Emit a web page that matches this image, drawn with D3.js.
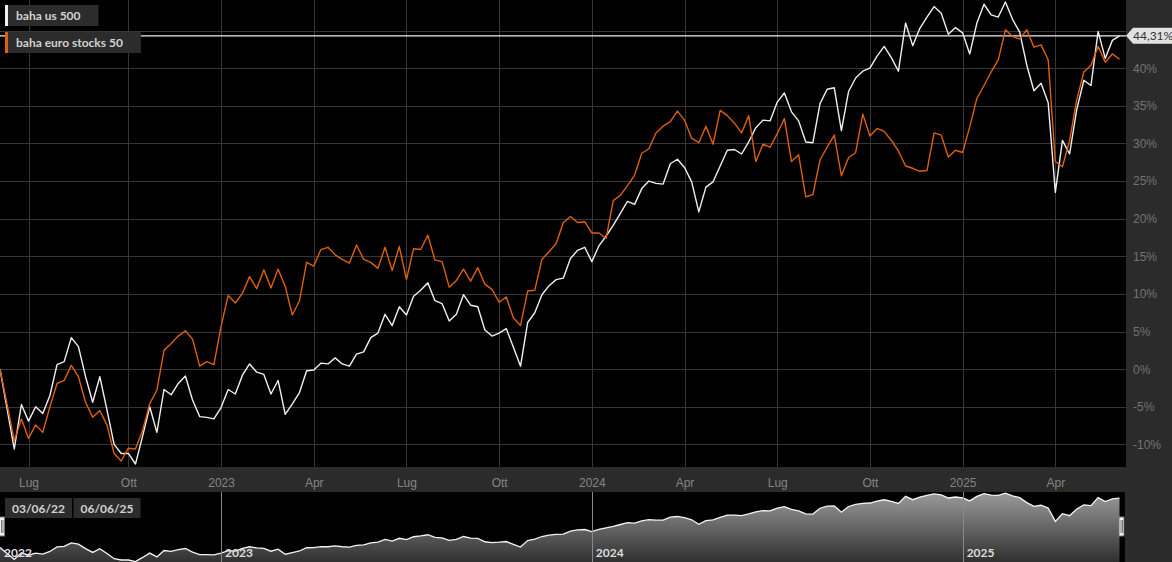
<!DOCTYPE html>
<html>
<head>
<meta charset="utf-8">
<script src="https://cdn.jsdelivr.net/npm/d3@7"></script>
<style>
  body { margin: 0; background: #2b2b2b; }
  svg { display: block; font-family: Lato, "Open Sans", sans-serif; }
  .axis .domain { display: none; }
  .axis line { display: none; }
</style>
</head>
<body>
<script>
// weekly closes, % change since 03/06/22
const seriesNames = ["baha us 500", "baha euro stocks 50"];
const seriesColors = ["#f0f0f0", "#dd600d"];

const us500 = [
  0.0, -5.3, -10.6, -4.7, -6.9, -5.0, -5.9, -3.5, 0.6, 1.0,
  4.2, 3.0, -1.0, -4.4, -1.0, -5.4, -10.0, -11.2, -11.2, -12.6,
  -8.9, -5.0, -8.4, -2.7, -3.4, -1.9, -0.9, -4.1, -6.3, -6.4,
  -6.6, -5.1, -2.7, -3.3, -0.8, 0.7, -0.4, -0.7, -3.3, -1.5,
  -6.0, -4.6, -3.1, -0.2, -0.1, 0.8, 0.7, 1.5, 0.7, 0.4,
  2.0, 2.3, 4.2, 4.8, 7.3, 5.8, 8.3, 7.2, 9.7, 10.5,
  11.5, 9.1, 8.7, 6.4, 7.3, 9.9, 8.5, 8.3, 5.2, 4.4,
  4.8, 5.4, 2.9, 0.4, 6.2, 7.5, 9.9, 11.1, 11.9, 12.1,
  14.7, 15.8, 16.2, 14.3, 16.4, 17.7, 19.1, 20.7, 22.3, 21.9,
  24.0, 25.0, 24.7, 24.6, 27.3, 27.9, 26.8, 24.9, 20.9, 24.2,
  24.9, 27.0, 29.1, 29.2, 28.6, 30.2, 32.1, 33.1, 33.0, 35.5,
  36.7, 34.2, 33.0, 30.2, 30.1, 35.3, 37.2, 37.4, 31.7, 36.9,
  38.7, 39.6, 40.0, 41.6, 42.9, 41.4, 39.6, 46.0, 43.0, 45.3,
  46.8, 48.2, 47.3, 44.5, 45.4, 44.7, 41.9, 46.0, 48.5, 47.1,
  46.8, 48.8, 46.5, 44.8, 40.4, 37.0, 38.0, 35.4, 23.5, 30.4,
  28.6, 34.5, 38.4, 37.7, 44.9, 41.3, 43.7, 44.31
];

const euroStocks50 = [
  0.0, -4.7, -9.5, -6.6, -9.2, -7.4, -8.4, -5.0, -1.9, -1.5,
  0.5, -1.0, -4.4, -6.4, -5.5, -7.4, -11.2, -12.2, -10.5, -10.6,
  -8.1, -4.6, -2.8, 2.5, 3.4, 4.4, 5.1, 4.0, 0.4, 1.0,
  0.6, 5.7, 9.8, 8.8, 10.1, 12.3, 10.7, 13.2, 10.8, 13.3,
  11.0, 7.2, 9.1, 14.2, 13.7, 15.9, 16.2, 15.2, 14.6, 14.1,
  16.5, 14.6, 14.2, 13.4, 16.2, 13.1, 16.3, 11.9, 16.0, 15.9,
  17.8, 14.5, 14.3, 10.9, 11.8, 13.3, 11.7, 13.5, 11.3, 10.6,
  8.9, 9.6, 6.8, 5.8, 10.4, 10.5, 14.6, 15.6, 16.7, 19.5,
  20.3, 19.5, 19.6, 18.1, 18.1, 17.4, 22.4, 23.1, 24.4, 25.8,
  28.7, 29.3, 31.4, 32.3, 32.9, 34.3, 33.1, 30.7, 30.1, 32.3,
  29.9, 34.4, 33.7, 32.7, 31.4, 33.7, 27.6, 29.9, 29.5, 31.3,
  33.3, 27.6, 28.5, 22.9, 23.2, 27.8, 29.5, 31.1, 25.7, 28.1,
  28.8, 33.9, 31.0, 32.0, 31.6, 30.4, 29.0, 27.0, 26.7, 26.3,
  26.4, 31.4, 31.1, 28.2, 29.1, 28.8, 32.2, 36.0, 37.7, 39.5,
  41.1, 45.1, 44.2, 43.9, 45.1, 42.8, 43.1, 41.1, 27.6, 26.9,
  30.4, 35.8, 39.5, 40.4, 42.9, 40.8, 41.9, 41.2
];

const monthLabels = ["Gen", "Feb", "Mar", "Apr", "Mag", "Giu", "Lug", "Ago", "Set", "Ott", "Nov", "Dic"];
const yTicks = [-10, -5, 0, 5, 10, 15, 20, 25, 30, 35, 40, 45];
const rangeLabels = ["03/06/22", "06/06/25"];

const W = 1172, H = 562;
const plotW = 1126, plotH = 467;
const navTop = 492;

// one point per friday
const dates = d3.timeFriday.range(new Date(2022, 5, 3), new Date(2025, 5, 7));

const x = d3.scaleTime()
    .domain([dates[0], dates[dates.length - 1]])
    .range([0, 1119.5]);

const y = d3.scaleLinear()
    .domain([-13, 49])
    .range([467, 0.5]);

const yNav = d3.scaleLinear()
    .domain([-13, 49])
    .range([562, 493]);

// highcharts-ish: ticks sit on first point of the quarter
const quarterTicks = d3.timeMonth.every(3)
    .range(new Date(2022, 6, 1), new Date(2025, 5, 1))
    .map(d => d3.timeFriday.ceil(d));
const yearTicks = quarterTicks.filter(d => d.getMonth() === 0);

const svg = d3.select("body").append("svg")
    .attr("width", W)
    .attr("height", H);

svg.append("rect")
    .attr("width", W).attr("height", H)
    .attr("fill", "#2b2b2b");

svg.append("rect")
    .attr("width", plotW).attr("height", plotH)
    .attr("fill", "#000");

// grid
const grid = svg.append("g").attr("class", "grid");
grid.selectAll("line.h")
  .data(yTicks)
  .enter().append("line")
    .attr("class", "h")
    .attr("x1", 0).attr("x2", plotW)
    .attr("y1", d => Math.round(y(d)) + 0.5)
    .attr("y2", d => Math.round(y(d)) + 0.5)
    .attr("stroke", "#363636");
grid.selectAll("line.v")
  .data(quarterTicks)
  .enter().append("line")
    .attr("class", "v")
    .attr("x1", d => Math.round(x(d)) + 0.5)
    .attr("x2", d => Math.round(x(d)) + 0.5)
    .attr("y1", 0).attr("y2", plotH)
    .attr("stroke", "#363636");

// axes
svg.append("g")
    .attr("class", "axis")
    .attr("transform", `translate(0,${plotH})`)
    .call(d3.axisBottom(x)
      .tickValues(quarterTicks)
      .tickSize(0)
      .tickPadding(11)
      .tickFormat(d => d.getMonth() === 0 ? d.getFullYear() : monthLabels[d.getMonth()]))
  .selectAll("text")
    .attr("fill", "#858585")
    .style("font-size", "12px");

svg.append("g")
    .attr("class", "axis")
    .attr("transform", `translate(${plotW},0)`)
    .call(d3.axisRight(y)
      .tickValues(yTicks.filter(d => d < 45))
      .tickSize(0)
      .tickPadding(7)
      .tickFormat(d => d + "%"))
  .selectAll("text")
    .attr("fill", "#737373")
    .style("font-size", "12px");

// lines
const line = d3.line()
    .x((d, i) => x(dates[i]))
    .y(d => y(d));

const lastVal = us500[us500.length - 1];
svg.append("line")
    .attr("x1", 0).attr("x2", plotW)
    .attr("y1", y(lastVal)).attr("y2", y(lastVal))
    .attr("stroke", "#f0f0f0")
    .attr("stroke-width", 1.2);

[us500, euroStocks50].forEach((s, k) => {
  svg.append("path")
      .datum(s)
      .attr("d", line)
      .attr("fill", "none")
      .attr("stroke", seriesColors[k])
      .attr("stroke-width", 1.4)
      .attr("stroke-linejoin", "round");
});

// last value flag
const fy = y(lastVal);
svg.append("path")
    .attr("d", `M${plotW},${fy} L${plotW + 7},${fy - 8} L${W},${fy - 8} L${W},${fy + 8} L${plotW + 7},${fy + 8} Z`)
    .attr("fill", "#e2e2e2");
svg.append("text")
    .attr("x", plotW + 7)
    .attr("y", fy + 4.5)
    .attr("fill", "#333")
    .style("font-size", "12px")
    .text(d3.format(".2f")(lastVal).replace(".", ",") + "%");

// legend
const legend = svg.append("g").selectAll("g")
  .data(seriesNames)
  .enter().append("g")
    .attr("transform", (d, i) => `translate(5,${5 + i * 27})`);
const bg = legend.append("rect")
    .attr("height", 21)
    .attr("fill", "#2c2c2c");
legend.append("rect")
    .attr("width", 3).attr("height", 21)
    .attr("fill", (d, i) => seriesColors[i]);
legend.append("text")
    .attr("x", 11).attr("y", 15)
    .attr("fill", "#d2d2d2")
    .style("font-size", "12px")
    .style("font-weight", "bold")
    .text(d => d)
    .each(function(d, i) {
      d3.select(bg.nodes()[i]).attr("width", this.getComputedTextLength() + 29);
    });

// navigator
const defs = svg.append("defs");
const grad = defs.append("linearGradient")
    .attr("id", "navfill")
    .attr("x1", 0).attr("x2", 0).attr("y1", 0).attr("y2", 1);
grad.append("stop").attr("offset", "0%").attr("stop-color", "#9a9a9a");
grad.append("stop").attr("offset", "100%").attr("stop-color", "#303030");

svg.append("rect")
    .attr("y", navTop)
    .attr("width", 1125).attr("height", H - navTop)
    .attr("fill", "#000");

const area = d3.area()
    .x((d, i) => x(dates[i]))
    .y0(H)
    .y1(d => yNav(d));
svg.append("path")
    .datum(us500)
    .attr("d", area)
    .attr("fill", "url(#navfill)");
svg.append("path")
    .datum(us500)
    .attr("d", d3.line().x((d, i) => x(dates[i])).y(d => yNav(d)))
    .attr("fill", "none")
    .attr("stroke", "#f4f4f4")
    .attr("stroke-width", 1.3);

const navYears = [dates[0]].concat(yearTicks);
svg.append("g").selectAll("line")
  .data(yearTicks)
  .enter().append("line")
    .attr("x1", d => Math.round(x(d)) + 0.5)
    .attr("x2", d => Math.round(x(d)) + 0.5)
    .attr("y1", navTop).attr("y2", H)
    .attr("stroke", "#8a8a8a");
svg.append("g").selectAll("text")
  .data(navYears)
  .enter().append("text")
    .attr("x", d => x(d) + 4)
    .attr("y", 557)
    .attr("fill", "#dcdcdc")
    .style("font-size", "12px")
    .style("font-weight", "bold")
    .text(d => d.getFullYear());

// range boxes
const rb = svg.append("g").selectAll("g")
  .data(rangeLabels)
  .enter().append("g")
    .attr("transform", (d, i) => `translate(${5 + i * 68.5},498)`);
rb.append("rect")
    .attr("width", 67).attr("height", 20)
    .attr("fill", "#2c2c2c");
rb.append("text")
    .attr("x", 33.5).attr("y", 14.5)
    .attr("text-anchor", "middle")
    .attr("fill", "#d2d2d2")
    .style("font-size", "12px")
    .style("font-weight", "bold")
    .text(d => d);

// handles
svg.append("g").selectAll("g")
  .data(x.range())
  .enter().append("g")
    .attr("transform", d => `translate(${d},517)`)
    .each(function() {
      const g = d3.select(this);
      g.append("rect")
          .attr("x", -0.5).attr("width", 5).attr("height", 19)
          .attr("fill", "#f2f2f2").attr("stroke", "#777");
      g.append("line")
          .attr("x1", 1.5).attr("x2", 1.5).attr("y1", 3).attr("y2", 16)
          .attr("stroke", "#777");
      g.append("line")
          .attr("x1", 3).attr("x2", 3).attr("y1", 3).attr("y2", 16)
          .attr("stroke", "#777");
    });
</script>
</body>
</html>
